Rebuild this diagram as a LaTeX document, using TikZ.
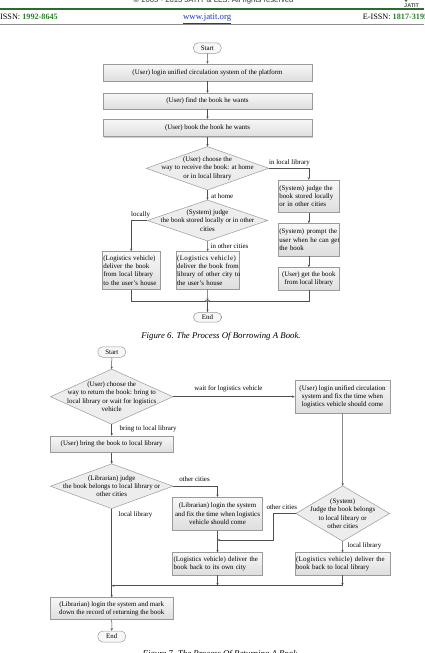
\documentclass[tikz,border=0pt]{standalone}
\usepackage{fontspec}
\setmainfont{Liberation Serif}
\newfontfamily\hsans{Liberation Sans}
\usetikzlibrary{arrows.meta,backgrounds,shadows}
\definecolor{boxline}{HTML}{9A9A9A}
\definecolor{arrc}{HTML}{505050}
\definecolor{hgreen}{HTML}{2D6A2D}
\definecolor{ngreen}{HTML}{2E7D2E}
\definecolor{linkblue}{HTML}{2233BB}
\newcommand{\fsz}{\fontsize{6.9}{8.3}\selectfont}
\newcommand{\nb}[1]{\mbox{#1}}
\begin{document}
\begin{tikzpicture}[x=1pt,y=-1pt,
  every node/.style={font=\fsz},
  box/.style={draw=boxline, line width=0.5pt, top color=white!97!black, bottom color=white!87!black, inner sep=1pt, align=center,
    drop shadow={shadow xshift=0.8pt, shadow yshift=-0.8pt, opacity=0.2, fill=black}},
  lbox/.style={box, align=left},
  pill/.style={draw=boxline, line width=0.5pt, fill=white!97!black, rounded corners=5pt, minimum width=28pt, minimum height=10.5pt, inner sep=0pt},
  dia/.style={inner sep=0pt, align=center},
  diafill/.style={draw=boxline, fill=white!93!black, line width=0.5pt},
  arr/.style={draw=arrc, line width=0.5pt, -{Stealth[length=2.6pt,width=2.2pt]}},
  lbl/.style={inner sep=0.5pt},
  figcap/.style={font=\fontsize{8.8}{10}\selectfont\itshape, inner sep=0pt}
]
\useasboundingbox (0,0) rectangle (424,653);
\clip (0,0) rectangle (424,653);

% ---------- header ----------
\node[anchor=base, inner sep=0pt, font=\hsans\fontsize{7.7}{8}\selectfont, text=black!80] (copy) at (213.5,2.7) {© 2005 - 2013 JATIT \& LLS. All rights reserved};
\node[anchor=base west, inner sep=0pt, font=\hsans\bfseries\fontsize{5.5}{6}\selectfont, text=black!70] (logo) at (404,7.6) {JATIT};
\fill[ngreen] (406,0.5) circle (1.3pt);
\draw[hgreen, line width=1.3pt] (0,8.9) -- (424,8.9);
\node[anchor=base west, inner sep=0pt, font=\fontsize{8.2}{9}\selectfont] (issn) at (0,19.8) {ISSN: \textcolor{ngreen}{\bfseries 1992-8645}};
\node[anchor=base, inner sep=0pt, font=\fontsize{8.8}{9}\selectfont, text=linkblue] (www) at (207.2,19.8) {\underline{www.jatit.org}};
\node[anchor=base west, inner sep=0pt, font=\fontsize{8.2}{9}\selectfont] (eissn) at (362.7,19.8) {E-ISSN: \textcolor{ngreen}{\bfseries 1817-3195}};
\draw[black!45, line width=0.6pt] (0,24.3) -- (424,24.3);

% ---------- Figure 6 ----------
\node[pill] (s6) at (207.3,48) {Start};
\node[box, minimum width=209pt, minimum height=17pt] (b1) at (207.5,72.5) {(User) login unified circulation system of the platform};
\node[box, minimum width=209pt, minimum height=15.5pt] (b2) at (207.5,101) {(User) find the book he wants};
\node[box, minimum width=209pt, minimum height=17.4pt] (b3) at (207.5,128) {(User) book the book he wants};
\node[dia, minimum width=122pt, minimum height=43pt] (d1) at (207.5,168.3) {(User) choose the\\way to receive the book: at home\\or in local library};
\node[dia, minimum width=120pt, minimum height=40.5pt] (d2) at (207.5,220.5) {(System) judge\\the book stored locally or in other\\cities};
\node[lbox, minimum width=61pt, text width=59pt, minimum height=32.3pt] (r1) at (308.8,196.2) {\nb{(System) judge the}\\\nb{book stored locally}\\\nb{or in other cities}};
\node[lbox, minimum width=61pt, text width=59pt, minimum height=32.7pt] (r2) at (308.8,239.7) {\nb{(System) prompt the}\\\nb{user when he can get}\\\nb{the book}};
\node[box, minimum width=61pt, minimum height=22.7pt] (r3) at (308.8,278.7) {(User) get the book\\from local library};
\node[lbox, minimum width=57.7pt, text width=55.7pt, minimum height=37.8pt] (l1) at (131.2,270.4) {\nb{(Logistics vehicle)}\\\nb{deliver the book}\\\nb{from local library}\\\nb{to the user’s house}};
\node[lbox, minimum width=63.3pt, text width=61.3pt, minimum height=37.8pt] (l2) at (207.7,270.4) {\nb{\addfontfeature{LetterSpace=6}(Logistics vehicle)}\\\nb{deliver the book from}\\\nb{library of other city to}\\\nb{the user’s house}};
\node[pill, minimum height=9.8pt] (e6) at (207.5,317.3) {End};
\coordinate (m6) at (207.5,301);

\begin{scope}[on background layer]
  \path[diafill] (d1.north) -- (d1.east) -- (d1.south) -- (d1.west) -- cycle;
  \path[diafill] (d2.north) -- (d2.east) -- (d2.south) -- (d2.west) -- cycle;
\end{scope}

\draw[arr] (s6) -- (b1);
\draw[arr] (b1) -- (b2);
\draw[arr] (b2) -- (b3);
\draw[arr] (b3) -- (d1.north);
\draw[arr] (d1.south) -- (d2.north);
\draw[arr] (d1.east) -| (r1.north);
\draw[arr] (r1) -- (r2);
\draw[arr] (r2) -- (r3);
\draw[arr] (d2.west) -| (l1.north);
\draw[arr] (d2.south) -- (l2.north);
\draw[arr] (l1.south) |- (m6);
\draw[arr] (r3.south) |- (m6);
\draw[arr] (l2.south) -- (m6);
\draw[arr] (m6) -- (e6.north);

\node[lbl, anchor=west] (t61) at (268.5,163.3) {in local library};
\node[lbl, anchor=west] (t62) at (210.5,196) {at home};
\node[lbl, anchor=west] (t63) at (130.5,215) {locally};
\node[lbl, anchor=west] (t64) at (210,245.7) {in other cities};

\node[figcap, anchor=base] (cap6) at (221,338) {Figure 6. The Process Of Borrowing A Book.};

% ---------- Figure 7 ----------
\node[pill] (s7) at (111.8,352) {Start};
\node[dia, minimum width=122pt, minimum height=54.7pt] (da) at (111.7,396.7) {(User) choose the\\way to return the book: bring to\\local library or wait for logistics\\vehicle};
\node[box, minimum width=95pt, minimum height=33.3pt] (bb) at (342.5,396.7) {(User) login unified circulation\\system and fix the time when\\logistics vehicle should come};
\node[box, minimum width=123.3pt, minimum height=16.3pt] (bc) at (111.7,444.2) {(User) bring the book to local library};
\node[dia, minimum width=122pt, minimum height=44.3pt] (dd) at (111.7,486.2) {(Librarian) judge\\the book belongs to local library or\\other cities};
\node[box, minimum width=89.6pt, minimum height=33pt] (be) at (217.5,513.8) {(Librarian) login the system\\and fix the time when logistics\\vehicle should come};
\node[dia, minimum width=93.3pt, minimum height=55pt] (df) at (342.7,513.5) {(System)\\Judge the book belongs\\to local library or\\other cities};
\node[lbox, minimum width=89.6pt, text width=87.6pt, minimum height=22.3pt] (bh) at (217.5,563.8) {\nb{(Logistics vehicle) deliver the}\\\nb{book back to its own city}};
\node[lbox, minimum width=95pt, text width=93pt, minimum height=22.3pt] (bi) at (342.5,563.8) {\nb{{\addfontfeature{LetterSpace=4}(Logistics vehicle)} deliver the}\\\nb{book back to local library}};
\node[box, minimum width=123.3pt, minimum height=21.6pt] (bg) at (111.7,608.5) {(Librarian) login the system and mark\\down the record of returning the book};
\node[pill, minimum height=11pt] (e7) at (111.8,636.5) {End};
\coordinate (k7) at (273.3,540);
\coordinate (j7) at (217.5,540);
\coordinate (m7) at (111.7,585.7);
\coordinate (mh) at (217.5,585.7);
\coordinate (mi) at (342.5,585.7);

\begin{scope}[on background layer]
  \path[diafill] (da.north) -- (da.east) -- (da.south) -- (da.west) -- cycle;
  \path[diafill] (dd.north) -- (dd.east) -- (dd.south) -- (dd.west) -- cycle;
  \path[diafill] (df.north) -- (df.east) -- (df.south) -- (df.west) -- cycle;
\end{scope}

\draw[arr] (s7) -- (da.north);
\draw[arr] (da.east) -- (bb.west);
\draw[arr] (da.south) -- (bc.north);
\draw[arr] (bc) -- (dd.north);
\draw[arr] (dd.east) -| (be.north);
\draw[arr] (bb.south) -- (df.north);
\draw[arr] (df.west) -| (k7) -- (j7);
\draw[arr] (be) -- (bh);
\draw[arr] (df.south) -- (bi.north);
\draw[arr] (dd.south) -- (bg.north);
\draw[arr] (bh.south) -- (mh);
\draw[arr] (bi.south) -- (mi);
\draw[arr] (mi) -- (m7);
\draw[arr] (bg) -- (e7);

\node[lbl] (t71) at (228.5,389) {wait for logistics vehicle};
\node[lbl, anchor=west] (t72) at (119,429.3) {bring to local library};
\node[lbl] (t73) at (194.5,479) {other cities};
\node[lbl, anchor=west] (t74) at (118,514.7) {local library};
\node[lbl] (t75) at (281.8,507.3) {other cities};
\node[lbl, anchor=west] (t76) at (347,546) {local library};

\node[figcap, anchor=base] (cap7) at (221,656.5) {Figure 7. The Process Of Returning A Book.};
\end{tikzpicture}
\end{document}
